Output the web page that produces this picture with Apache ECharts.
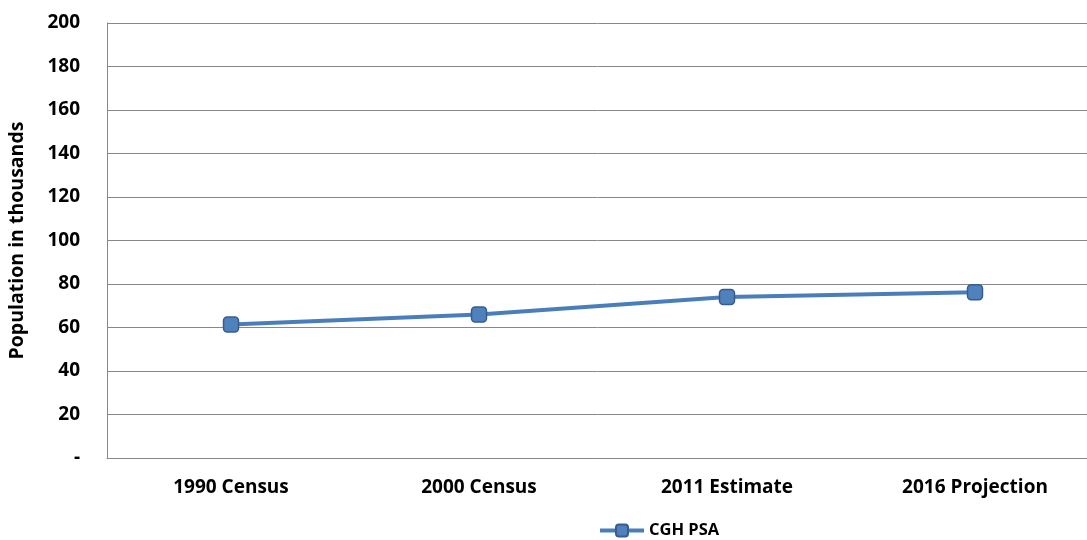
<!DOCTYPE html>
<html><head><meta charset="utf-8">
<script src="https://cdn.jsdelivr.net/npm/echarts@6/dist/echarts.min.js"></script>
<style>html,body{margin:0;padding:0;background:#fff}#c{width:1087px;height:540px}</style>
</head><body><div id="c"></div>
<script>
const categories = ['1990 Census', '2000 Census', '2011 Estimate', '2016 Projection'];
const seriesName = 'CGH PSA';
const values = [61.4, 66.0, 74.0, 76.2];
const yMin = 0, yMax = 200, yStep = 20;

const chart = echarts.init(document.getElementById('c'));
const font = '"Open Sans", "Liberation Sans", sans-serif';
chart.setOption({
  animation: false,
  grid: { left: 107, right: -12, top: 23, bottom: 82, containLabel: false, outerBoundsMode: 'none' },
  legend: {
    data: [seriesName], top: 522, left: 598, itemWidth: 44, itemHeight: 15, itemGap: 2,
    padding: 0,
    lineStyle: { width: 4 },
    textStyle: { fontFamily: font, fontWeight: 'bold', fontSize: 16.5, color: '#000' }
  },
  xAxis: {
    type: 'category', data: categories, boundaryGap: true,
    axisLine: { lineStyle: { color: '#888', width: 1 } },
    axisTick: { show: false },
    axisLabel: { margin: 20, fontFamily: font, fontWeight: 'bold', fontSize: 19, color: '#000' }
  },
  yAxis: {
    type: 'value', min: yMin, max: yMax, interval: yStep,
    name: 'Population in thousands', nameLocation: 'middle', nameGap: 80, nameRotate: 90,
    nameTextStyle: { fontFamily: font, fontWeight: 'bold', fontSize: 19.5, color: '#000' },
    axisLine: { show: true, lineStyle: { color: '#888', width: 1 } },
    axisTick: { show: false },
    splitLine: { lineStyle: { color: '#888', width: 1 } },
    axisLabel: { margin: 27, fontFamily: font, fontWeight: 'bold', fontSize: 19, color: '#000',
      formatter: v => v === 0 ? '-' : String(v) }
  },
  series: [{
    name: seriesName, type: 'line', data: values,
    symbol: 'roundRect', symbolSize: 15,
    lineStyle: { color: '#4a7ebb', width: 4 },
    itemStyle: { color: '#4f81bd', borderColor: '#385d8a', borderWidth: 1.5 }
  }]
});
</script></body></html>
